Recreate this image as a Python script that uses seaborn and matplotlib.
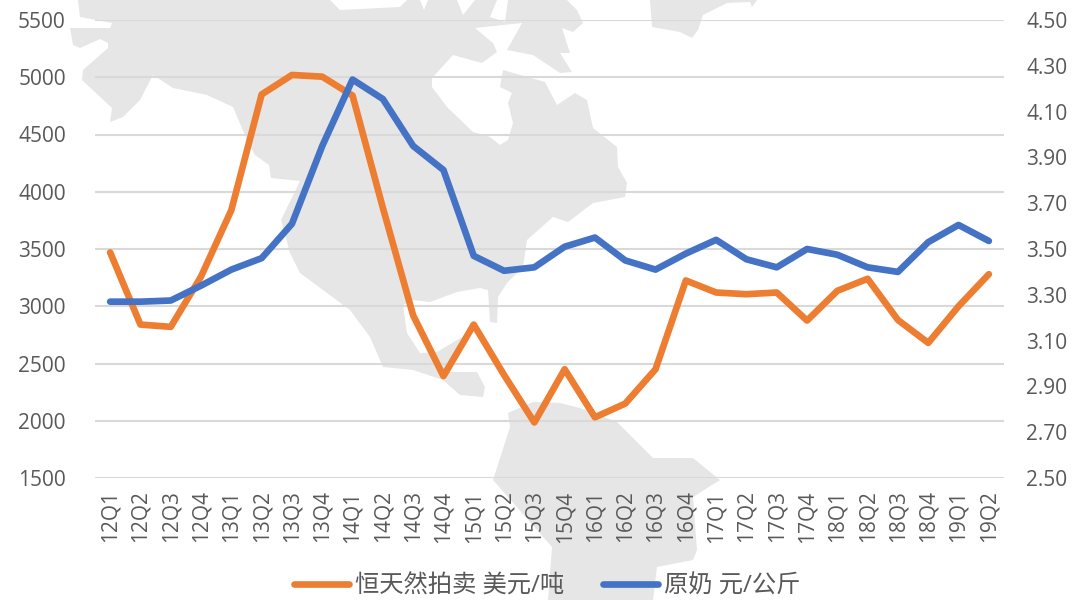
import matplotlib
matplotlib.use("Agg")
import matplotlib.pyplot as plt
from matplotlib.patches import Polygon
import seaborn as sns
import pandas as pd

quarters = ["12Q1","12Q2","12Q3","12Q4","13Q1","13Q2","13Q3","13Q4","14Q1","14Q2",
            "14Q3","14Q4","15Q1","15Q2","15Q3","15Q4","16Q1","16Q2","16Q3","16Q4",
            "17Q1","17Q2","17Q3","17Q4","18Q1","18Q2","18Q3","18Q4","19Q1","19Q2"]
auction = [3470,2840,2820,3260,3840,4850,5020,5005,4840,3860,2920,2390,2840,2400,1985,
           2450,2030,2150,2450,3225,3120,3105,3120,2875,3135,3240,2880,2680,3000,3280]
milk = [3.27,3.27,3.275,3.34,3.41,3.46,3.61,3.95,4.24,4.155,3.95,3.845,3.47,3.405,3.42,
        3.51,3.55,3.45,3.41,3.48,3.54,3.455,3.42,3.50,3.475,3.42,3.40,3.53,3.605,3.535]
left_ticks = [1500,2000,2500,3000,3500,4000,4500,5000,5500]
right_ticks = [2.5,2.7,2.9,3.1,3.3,3.5,3.7,3.9,4.1,4.3,4.5]
name_auction = "恒天然拍卖 美元/吨"
name_milk = "原奶 元/公斤"

# decorative world-map backdrop, in figure pixels
north_america = [(78,0),(80,17),(112,23),(110,28),(70,28),(73,45),(80,48),(100,39),(108,43),(108,48),
    (83,70),(82,80),(112,108),(110,122),(123,117),(140,100),(153,75),(173,88),(207,95),(233,107),(247,140),
    (255,155),(269,165),(271,178),(300,181),(281,220),(290,253),(300,273),(350,310),(370,337),(383,367),
    (413,370),(443,380),(460,395),(483,397),(485,387),(477,372),(453,372),(447,372),(462,337),(437,352),
    (420,353),(407,333),(403,305),(413,300),(430,302),(457,292),(480,288),(488,290),(490,322),(497,323),
    (498,297),(507,283),(523,267),(527,240),(553,217),(568,222),(593,203),(625,197),(627,183),(618,167),
    (617,147),(593,128),(587,100),(575,93),(557,105),(545,82),(503,70),(500,87),(512,93),(508,103),
    (513,123),(508,140),(500,145),(490,137),(473,132),(447,107),(432,87),(432,78),(453,55),(482,63),
    (497,52),(493,43),(475,28),(522,23),(507,50),(533,55),(560,73),(572,72),(560,53),(570,53),(562,28),
    (573,32),(583,23),(577,10),(567,0)]
south_america = [(508,413),(533,402),(560,403),(580,408),(617,422),(653,458),(693,458),(720,480),(693,497),
    (697,550),(693,560),(657,567),(653,600),(548,600),(552,547),(493,480),(510,427)]
greenland = [(650,0),(652,27),(680,32),(692,38),(698,30),(703,15),(727,3),(750,2),(752,7),(757,0)]
north_gaps = [[(330,0),(340,10),(400,7),(407,0)],[(420,0),(424,10),(428,0)],
              [(457,0),(463,15),(475,0)],[(497,0),(490,17),(505,22),(508,0)]]

sns.set_theme(style="white")
plt.rcParams['font.family'] = ['Open Sans', 'Noto Sans CJK SC', 'DejaVu Sans']
GREY = "#595959"
W, H = 1074, 600
fig = plt.figure(figsize=(W/100, H/100), dpi=100, facecolor="white")

bg = fig.add_axes([0, 0, 1, 1], zorder=0)
bg.set_xlim(0, W); bg.set_ylim(H, 0); bg.axis("off")
for poly in (north_america, south_america, greenland):
    bg.add_patch(Polygon(poly, closed=True, fc="#e6e6e6", ec="none"))
for poly in north_gaps:
    bg.add_patch(Polygon(poly, closed=True, fc="white", ec="none"))

L, R, T, B = 95, 1004, 20, 478
ax = fig.add_axes([L/W, 1-B/H, (R-L)/W, (B-T)/H], zorder=1)
ax.patch.set_alpha(0)
df = pd.DataFrame({"q": quarters, "a": auction, "m": milk})
sns.lineplot(data=df, x="q", y="a", ax=ax, color="#ed7d31", lw=4.8, sort=False, label=name_auction, legend=False,
             solid_capstyle="round", solid_joinstyle="round", zorder=3)
ax.set_xlim(-0.5, 29.5)
ax.set_ylim(1500, 5500)
ax.set_yticks(left_ticks)
ax.set_xlabel(""); ax.set_ylabel("")
ax.grid(True, axis="y", color="#d9d9d9", lw=1.5, zorder=1)
ax.grid(False, axis="x")
ax.set_axisbelow(True)
ax.tick_params(axis="y", length=0, pad=21, labelsize=15, labelcolor=GREY)
ax.tick_params(axis="x", length=0, pad=9, labelsize=15, labelcolor=GREY, rotation=90)
for s in ax.spines.values():
    s.set_visible(False)

ax2 = ax.twinx()
ax2.set_zorder(2); ax2.patch.set_alpha(0)
sns.lineplot(data=df, x="q", y="m", ax=ax2, color="#4472c4", lw=4.8, sort=False, label=name_milk, legend=False,
             solid_capstyle="round", solid_joinstyle="round", zorder=3)
ax2.set_ylim(2.5, 4.5)
ax2.set_yticks(right_ticks)
ax2.set_yticklabels([f"{v:.2f}" for v in right_ticks])
ax2.set_ylabel("")
ax2.grid(False)
ax2.tick_params(axis="y", length=0, pad=16, labelsize=15, labelcolor=GREY)
for s in ax2.spines.values():
    s.set_visible(False)

h1, l1 = ax.get_legend_handles_labels()
h2, l2 = ax2.get_legend_handles_labels()
leg = fig.legend(h1+h2, l1+l2, loc="center", bbox_to_anchor=(547/W, 1-587/H), ncol=2, frameon=False,
                 fontsize=17.5, handlelength=2.26, handletextpad=0.25, columnspacing=1.6, labelcolor=GREY,
                 borderpad=0, borderaxespad=0)
fig.savefig("out.png", dpi=100)
